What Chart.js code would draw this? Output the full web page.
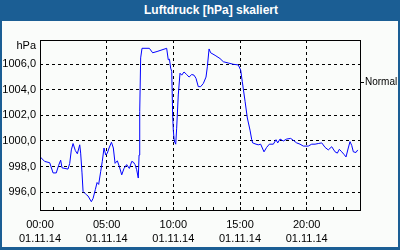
<!DOCTYPE html>
<html lang="de">
<head>
    <meta charset="UTF-8">
    <title>Luftdruck</title>
    <script src="https://cdn.jsdelivr.net/npm/chart.js"></script>
    <style>
        body {
            margin: 0;
            font-family: "Liberation Sans", Arial, sans-serif;
        }
        #frame {
            width: 400px;
            height: 250px;
            box-sizing: border-box;
            background-color: #1b5e94;
            padding: 0 2px 3px 2px;
        }
        #title {
            height: 21px;
            line-height: 20px;
            box-sizing: border-box;
            padding-left: 22px;
            color: white;
            font-weight: bold;
            font-size: 12px;
            text-align: center;
        }
        #plot {
            width: 396px;
            height: 226px;
            background-color: #fafcfa;
        }
    </style>
</head>
<body>
    <div id="frame">
        <div id="title">Luftdruck [hPa] skaliert</div>
        <div id="plot"><canvas id="pressureChart" width="396" height="226"></canvas></div>
    </div>

    <script>
        // hours since 00:00 on 01.11.14 and pressure readings in hPa
        const hours = [
            0.00, 0.35, 0.73, 0.98, 1.22, 1.40, 1.55, 1.65, 2.10, 2.23,
            2.35, 2.48, 2.65, 2.80, 2.98, 3.05, 3.15, 3.23, 3.47, 3.60,
            3.85, 3.98, 4.15, 4.28, 4.40, 4.55, 4.67, 4.80, 4.93, 5.05,
            5.18, 5.36, 5.50, 5.63, 5.80, 5.95, 6.13, 6.30, 6.50, 6.70,
            6.88, 7.00, 7.13, 7.25, 7.37, 7.43, 7.48, 7.55, 7.65, 8.20,
            8.45, 8.78, 9.50, 9.62, 9.71, 9.80, 9.88, 9.95, 10.00, 10.07,
            10.18, 10.25, 10.37, 10.50, 10.63, 10.80, 11.00, 11.18, 11.38, 11.55,
            11.70, 11.87, 12.05, 12.25, 12.45, 12.55, 12.68, 12.80, 13.13, 13.50,
            13.75, 14.12, 14.50, 14.87, 15.05, 15.17, 15.38, 15.55, 15.75, 15.88,
            15.95, 16.20, 16.37, 16.55, 16.80, 17.00, 17.20, 17.50, 17.70, 17.83,
            18.00, 18.25, 18.50, 18.80, 19.00, 19.25, 19.50, 19.75, 20.12, 20.38,
            20.63, 20.87, 21.13, 21.38, 21.62, 21.88, 22.13, 22.30, 22.45, 22.63,
            22.80, 22.95, 23.12, 23.25, 23.38, 23.50, 23.70, 23.83
        ];
        const pressure = [
            998.77, 998.40, 998.30, 997.50, 997.50, 998.10, 998.50, 997.90, 997.80, 998.25,
            999.30, 999.80, 999.25, 999.00, 999.70, 999.05, 997.50, 996.05, 995.80, 995.70,
            995.25, 995.50, 996.20, 996.75, 996.60, 997.60, 998.40, 999.45, 998.90, 999.05,
            999.45, 999.90, 999.45, 998.25, 998.45, 998.00, 997.35, 997.85, 998.15, 997.85,
            998.40, 998.35, 998.15, 997.75, 997.10, 998.90, 1002.30, 1006.50, 1007.25, 1007.25,
            1006.90, 1007.00, 1007.25, 1006.35, 1006.40, 1005.70, 1005.45, 1002.00, 1000.80, 1000.00,
            999.75, 1001.00, 1003.60, 1005.30, 1005.15, 1005.40, 1005.20, 1005.00, 1005.20, 1005.15,
            1004.90, 1004.25, 1004.25, 1004.50, 1005.00, 1005.80, 1007.20, 1006.90, 1006.70, 1006.45,
            1006.20, 1006.10, 1006.00, 1005.95, 1005.55, 1004.65, 1003.10, 1001.80, 1000.85, 1000.10,
            999.85, 999.75, 999.70, 999.75, 999.15, 999.50, 999.75, 999.75, 1000.10, 999.85,
            1000.15, 1000.00, 1000.15, 1000.20, 1000.05, 999.85, 999.75, 999.60, 999.60, 999.75,
            999.75, 999.80, 999.85, 999.50, 999.30, 999.55, 999.15, 999.05, 999.35, 999.15,
            998.95, 998.75, 999.45, 999.95, 999.65, 999.15, 999.10, 999.30
        ];

        const yTicks = [996, 998, 1000, 1002, 1004, 1006];
        const labelHours = [0, 5, 10, 15, 20];
        const dateLabel = '01.11.14';
        const unitLabel = 'hPa';
        const normalLevel = 1004.6;
        const normalLabel = 'Normal';

        const yMin = 994.6;
        const yMax = 1007.9;

        Chart.defaults.font.family = '"Liberation Sans", Arial, sans-serif';
        Chart.defaults.font.size = 11;
        Chart.defaults.color = '#000';

        // plot frame and unit label
        const framePlugin = {
            id: 'framePlugin',
            afterDraw(chart) {
                const { ctx, chartArea: a } = chart;
                ctx.save();
                ctx.strokeStyle = '#000';
                ctx.lineWidth = 1;
                ctx.setLineDash([]);
                ctx.strokeRect(Math.round(a.left) + 0.5, Math.round(a.top) + 0.5,
                    Math.round(a.right - a.left), Math.round(a.bottom - a.top));
                ctx.fillStyle = '#000';
                ctx.font = '11px "Liberation Sans", Arial, sans-serif';
                ctx.textAlign = 'right';
                ctx.textBaseline = 'middle';
                ctx.fillText(unitLabel, a.left - 4, a.top + 6);
                ctx.restore();
            }
        };

        const pad = n => String(n).padStart(2, '0');

        const ctx = document.getElementById('pressureChart').getContext('2d');
        new Chart(ctx, {
            type: 'line',
            data: {
                datasets: [{
                    data: hours.map((h, i) => ({ x: h, y: pressure[i] })),
                    borderColor: '#0000ff',
                    borderWidth: 1,
                    pointRadius: 0,
                    tension: 0,
                    fill: false
                }]
            },
            options: {
                responsive: false,
                animation: false,
                devicePixelRatio: 1,
                layout: { padding: { top: 19, left: 0, right: 0, bottom: 0 } },
                plugins: {
                    legend: { display: false },
                    tooltip: { enabled: false }
                },
                scales: {
                    x: {
                        type: 'linear',
                        min: 0,
                        max: 24,
                        afterBuildTicks: scale => {
                            const t = [];
                            for (let h = 0; h <= 24; h++) t.push({ value: h });
                            scale.ticks = t;
                        },
                        afterFit: scale => { scale.height = 37; },
                        grid: {
                            color: c => (labelHours.includes(c.tick.value) ? '#000' : 'rgba(0,0,0,0)'),
                            tickColor: '#000',
                            tickLength: -3,
                            tickBorderDash: [],
                            lineWidth: 1
                        },
                        border: { display: false, dash: [3, 3] },
                        ticks: {
                            autoSkip: false,
                            maxRotation: 0,
                            padding: 11,
                            font: { lineHeight: '14px' },
                            callback: v => labelHours.includes(v) ? [pad(v) + ':00', dateLabel] : ''
                        }
                    },
                    y: {
                        min: yMin,
                        max: yMax,
                        afterBuildTicks: scale => { scale.ticks = yTicks.map(v => ({ value: v })); },
                        afterFit: scale => { scale.width = 38; },
                        grid: { color: '#000', drawTicks: false, lineWidth: 1 },
                        border: { display: false, dash: [3, 3] },
                        ticks: {
                            padding: 4,
                            callback: v => v.toFixed(1).replace('.', ',')
                        }
                    },
                    y2: {
                        position: 'right',
                        min: yMin,
                        max: yMax,
                        afterBuildTicks: scale => { scale.ticks = [{ value: normalLevel }]; },
                        afterFit: scale => { scale.width = 38; },
                        grid: {
                            drawOnChartArea: false,
                            color: '#000',
                            tickLength: 4,
                            tickBorderDash: []
                        },
                        border: { display: false },
                        ticks: {
                            padding: 1,
                            font: { size: 10 },
                            callback: () => normalLabel
                        }
                    }
                }
            },
            plugins: [framePlugin]
        });
    </script>
</body>
</html>
